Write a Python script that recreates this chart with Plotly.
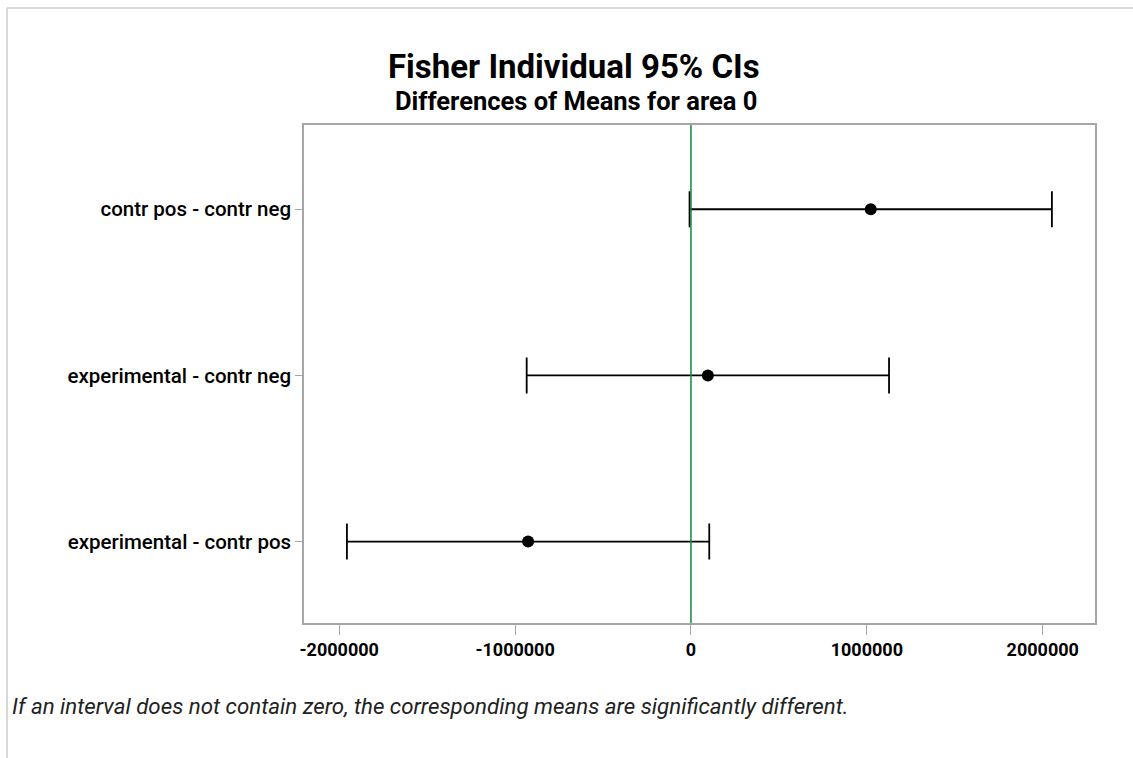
import plotly.graph_objects as go

# Pairwise differences of means (Fisher individual 95% intervals)
comparisons = ["experimental - contr pos", "experimental - contr neg", "contr pos - contr neg"]
diff_means = [-926000, 96000, 1022000]
ci_lower = [-1956000, -934000, -8000]
ci_upper = [104000, 1126000, 2052000]

x_ticks = [-2000000, -1000000, 0, 1000000, 2000000]
x_tick_labels = ["-2000000", "-1000000", "0", "1000000", "2000000"]

W, H = 1133, 758
ML, MR, MT, MB = 304, 38, 125, 135
PW, PH = W - ML - MR, H - MT - MB

def px_x(px):
    return (px - ML) / PW

def px_y(py):
    return (H - MB - py) / PH

ypos = list(range(len(comparisons)))
err_plus = [u - m for u, m in zip(ci_upper, diff_means)]
err_minus = [m - l for m, l in zip(diff_means, ci_lower)]

fig = go.Figure()
fig.add_trace(go.Scatter(
    x=diff_means, y=ypos, mode="markers",
    marker=dict(color="black", size=12, symbol="circle"),
    error_x=dict(type="data", symmetric=False, array=err_plus, arrayminus=err_minus,
                 color="black", thickness=1.8, width=18),
    showlegend=False, hoverinfo="x+y",
))

axis_line = "#a6a6a6"
fig.update_xaxes(
    range=[-2200000, 2297000], tickvals=x_ticks, ticktext=x_tick_labels,
    showgrid=False, zeroline=False, showline=True, linecolor=axis_line, linewidth=1.5,
    mirror=True, ticks="outside", ticklen=10, tickcolor=axis_line, tickwidth=1.2,
    tickfont=dict(family="Roboto", size=18, color="black", weight="bold"),
)
fig.update_yaxes(
    range=[-0.49, 2.507], tickvals=ypos, ticktext=comparisons,
    showgrid=False, zeroline=False, showline=True, linecolor=axis_line, linewidth=1.5,
    mirror=True, ticks="outside", ticklen=7, tickcolor=axis_line, tickwidth=1.2,
    tickfont=dict(family="Roboto", size=20.5, color="black", weight=500),
)

# reference line at zero
fig.add_shape(type="line", xref="x", yref="paper", x0=0, x1=0, y0=0, y1=1,
              line=dict(color="#138a36", width=1.5), layer="above")

# light frame along the top and left edge of the page
frame = "#cccccc"
fig.add_shape(type="line", xref="paper", yref="paper",
              x0=px_x(7), x1=px_x(W + 2), y0=px_y(8), y1=px_y(8),
              line=dict(color=frame, width=1.5))
fig.add_shape(type="line", xref="paper", yref="paper",
              x0=px_x(7), x1=px_x(7), y0=px_y(8), y1=px_y(H + 2),
              line=dict(color=frame, width=1.5))

fig.add_annotation(text="Fisher Individual 95% CIs", xref="paper", yref="paper",
                   x=px_x(574), y=px_y(66), xanchor="center", yanchor="middle",
                   showarrow=False,
                   font=dict(family="Roboto", size=33, color="black", weight="bold"))
fig.add_annotation(text="Differences of Means for area 0", xref="paper", yref="paper",
                   x=px_x(576), y=px_y(101), xanchor="center", yanchor="middle",
                   showarrow=False,
                   font=dict(family="Roboto", size=25.5, color="black", weight="bold"))
fig.add_annotation(text="If an interval does not contain zero, the corresponding means are significantly different.",
                   xref="paper", yref="paper", x=px_x(10), y=px_y(706),
                   xanchor="left", yanchor="middle", showarrow=False,
                   font=dict(family="Roboto", size=22.3, color="#222222", style="italic"))

fig.update_layout(
    width=W, height=H,
    margin=dict(l=ML, r=MR, t=MT, b=MB),
    paper_bgcolor="white", plot_bgcolor="white",
)

fig.write_html("out.html")
